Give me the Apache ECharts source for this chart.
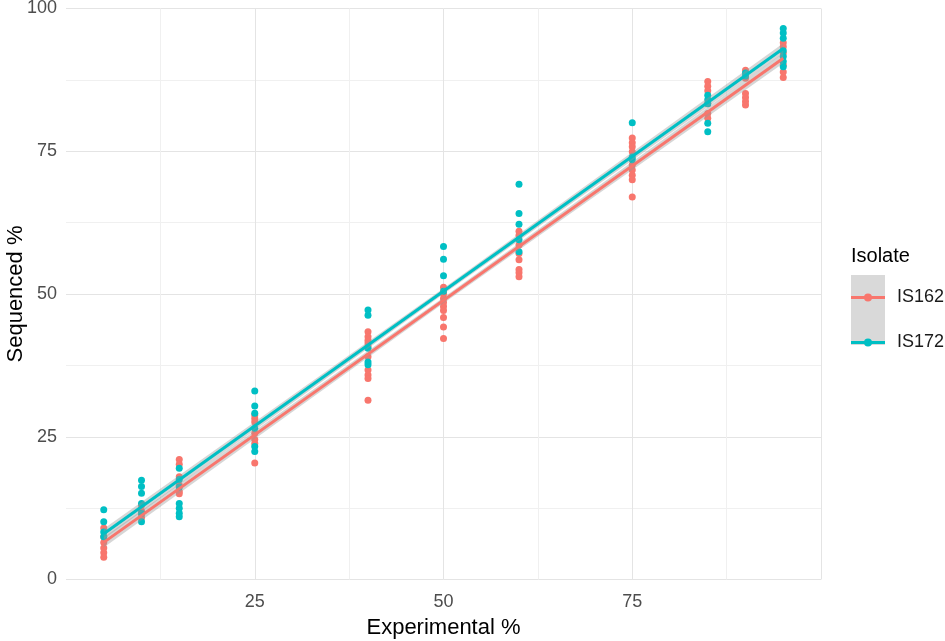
<!DOCTYPE html>
<html><head><meta charset="utf-8">
<script src="https://cdn.jsdelivr.net/npm/echarts@6/dist/echarts.min.js"></script>
<style>html,body{margin:0;padding:0;background:#fff}#c{width:945px;height:641px}</style>
</head><body><div id="c"></div>
<script>
// ---- data ----
const xLevels = [5, 10, 15, 25, 40, 50, 60, 75, 85, 90, 95];
const is162 = [
  [9, 7.5, 6.5, 5.5, 4.7, 3.9],
  [13, 12, 11.5, 10.8],
  [21, 20.2, 18, 16.5, 15.4, 15],
  [28.8, 28.2, 27.6, 25.6, 24.5, 23.8, 20.4],
  [43.4, 42.5, 41.9, 41.4, 40.8, 39, 36.7, 35.8, 35.2, 31.4],
  [51.2, 50, 49.2, 48.5, 47.8, 47.1, 45.9, 44.2, 42.2],
  [61, 60.3, 58.6, 57.1, 56, 54.3, 53.7, 53],
  [77.3, 76.5, 75.8, 74.9, 72.6, 71.7, 70.8, 70, 67],
  [87.2, 86.4, 85.6, 83.3, 81.6, 80.8],
  [89.2, 87.8, 85.1, 84.4, 83.7, 83.1],
  [94, 93.3, 92.2, 90.1, 88.9, 87.9]
];
const is172 = [
  [12.2, 10.1, 8.3, 7.5],
  [17.4, 16.3, 15.1, 13.3, 11.6, 10.1],
  [19.5, 17.5, 16.2, 13.3, 12.5, 11.6, 11],
  [33, 30.4, 29.1, 26.5, 23.3, 22.4],
  [47.2, 46.3, 40.5, 38.1, 37.6],
  [58.3, 56.1, 53.2, 50.5],
  [69.2, 64.1, 62.2, 59.5, 57.4],
  [80, 74, 73.5],
  [84.8, 84, 83.3, 79.9, 78.4],
  [88.7, 88.2],
  [96.5, 95.7, 94.8, 92.6, 91.6, 90.7, 89.8]
];
const fitX = [5, 95];
const fit162 = [6.5, 91.3];
const fit172 = [8.0, 93.0];
const bandX = [5, 50, 95];
const band162Lo = [5.6, 48.4, 90.4];
const band162Hi = [7.4, 49.4, 92.2];
const band172Lo = [7.1, 50.0, 92.1];
const band172Hi = [8.9, 51.0, 93.9];
const xTickLabels = [25, 50, 75];
const yTickLabels = [0, 25, 50, 75, 100];
const seriesNames = ['IS162', 'IS172'];
const colors = ['#F8766D', '#00BFC4'];

// ---- build ----
function pts(groups) {
  const out = [];
  groups.forEach((vals, i) => vals.forEach(v => out.push([xLevels[i], v])));
  return out;
}
function fitLine(ys) { return fitX.map((x, i) => [x, ys[i]]); }
function band(lo, hi) {
  return {
    type: 'custom', silent: true, z: 3, data: [[50, 50]],
    renderItem: (params, api) => {
      const p = [];
      for (let i = 0; i < bandX.length; i++) p.push(api.coord([bandX[i], hi[i]]));
      for (let i = bandX.length - 1; i >= 0; i--) p.push(api.coord([bandX[i], lo[i]]));
      return { type: 'polygon', shape: { points: p }, style: { fill: 'rgba(153,153,153,0.4)' } };
    }
  };
}
const keyIcon = 'path://M0,2.5 L34,2.5 L34,5.5 L0,5.5 Z M13,4 A4,4 0 1,1 21,4 A4,4 0 1,1 13,4 Z';
const font = '"Liberation Sans", Arial, sans-serif';
const major = '#e4e4e4', minor = '#f0f0f0';

const chart = echarts.init(document.getElementById('c'), null, { renderer: 'canvas' });
chart.setOption({
  animation: false,
  backgroundColor: '#ffffff',
  textStyle: { fontFamily: font },
  grid: { left: 66, right: 124, top: 8.5, bottom: 61.5, containLabel: false, outerBoundsMode: 'none' },
  title: {
    text: 'Isolate', left: 851, top: 246, padding: 0,
    textStyle: { fontSize: 20, fontWeight: 'normal', color: '#000', fontFamily: font }
  },
  graphic: [{ type: 'rect', left: 851, top: 275, shape: { width: 34, height: 70 }, style: { fill: '#d9d9d9' }, z: 0 }],
  legend: {
    orient: 'vertical', left: 851, top: 288.5, padding: 0,
    itemWidth: 34, itemHeight: 8, itemGap: 27,
    data: seriesNames.map(n => ({ name: n, icon: keyIcon })),
    textStyle: { fontSize: 18, color: '#1a1a1a', fontFamily: font, padding: [0, 0, 0, 7] },
    selectedMode: false
  },
  xAxis: {
    type: 'value', min: 0, max: 100, interval: 12.5,
    name: 'Experimental %', nameLocation: 'middle', nameGap: 37, nameMoveOverlap: false,
    nameTextStyle: { fontSize: 22, color: '#000', fontFamily: font },
    axisLine: { show: false }, axisTick: { show: false },
    axisLabel: {
      margin: 14, fontSize: 18, color: '#4d4d4d', fontFamily: font,
      formatter: v => (xTickLabels.indexOf(v) >= 0 ? String(v) : '')
    },
    splitLine: { show: true, lineStyle: { width: 1, color: ['rgba(0,0,0,0)', minor, major, minor, major, minor, major, minor, major] } }
  },
  yAxis: {
    type: 'value', min: 0, max: 100, interval: 12.5,
    name: 'Sequenced %', nameLocation: 'middle', nameGap: 39, nameMoveOverlap: false,
    nameTextStyle: { fontSize: 22, color: '#000', fontFamily: font },
    axisLine: { show: false }, axisTick: { show: false },
    axisLabel: {
      margin: 9, fontSize: 18, color: '#4d4d4d', fontFamily: font,
      formatter: v => (yTickLabels.indexOf(v) >= 0 ? String(v) : '')
    },
    splitLine: { show: true, lineStyle: { width: 1, color: [major, minor] } }
  },
  series: [
    { name: seriesNames[0], type: 'line', z: 4, data: fitLine(fit162), symbol: 'circle', showSymbol: false,
      lineStyle: { color: colors[0], width: 3 }, itemStyle: { color: colors[0] }, silent: true },
    { name: seriesNames[1], type: 'line', z: 4, data: fitLine(fit172), symbol: 'circle', showSymbol: false,
      lineStyle: { color: colors[1], width: 3 }, itemStyle: { color: colors[1] }, silent: true },
    { name: seriesNames[0], type: 'scatter', z: 2, data: pts(is162), symbolSize: 7, itemStyle: { color: colors[0], opacity: 1 } },
    { name: seriesNames[1], type: 'scatter', z: 2, data: pts(is172), symbolSize: 7, itemStyle: { color: colors[1], opacity: 1 } },
    band(band162Lo, band162Hi),
    band(band172Lo, band172Hi)
  ]
});
</script></body></html>
